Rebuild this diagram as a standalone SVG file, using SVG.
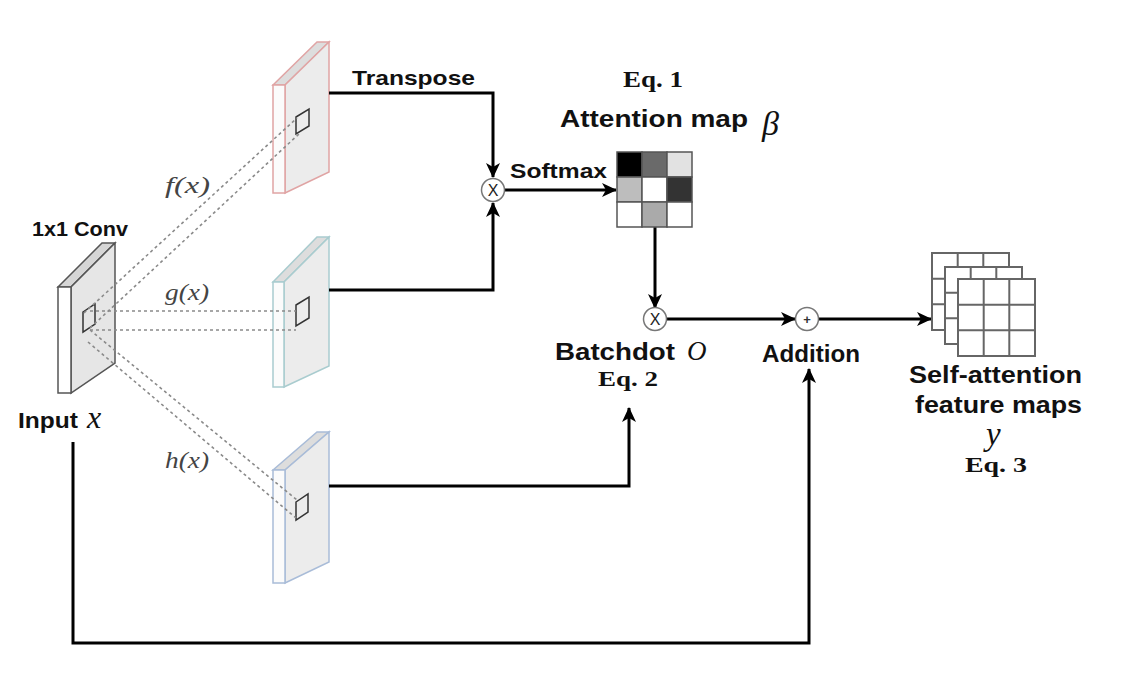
<svg xmlns="http://www.w3.org/2000/svg" width="1124" height="676" viewBox="0 0 1124 676">
<style>
.lbl{font-family:"Liberation Sans",Arial,sans-serif;font-weight:bold;fill:#111}
.eq{font-family:"Liberation Serif","Times New Roman",serif;font-weight:bold;fill:#111}
.math{font-family:"Liberation Serif","Times New Roman",serif;font-style:italic;fill:#111}
.fn{font-family:"Liberation Serif","Times New Roman",serif;font-style:italic;fill:#444;font-size:23px}
.wire{fill:none;stroke:#000;stroke-width:3}
.dash{fill:none;stroke:#8a8a8a;stroke-width:1.6;stroke-dasharray:3 3}
.sq{fill:none;stroke:#333;stroke-width:1.5}
.op{fill:#fff;stroke:#777;stroke-width:1.5}
.cell{stroke:#555;stroke-width:1.5}
.fm{fill:#fff;stroke:#666;stroke-width:2}
</style>
<defs>
<marker id="arr" markerUnits="userSpaceOnUse" markerWidth="16" markerHeight="14" refX="14" refY="7" orient="auto">
<path d="M0,0 L15,7 L0,14 L4,7 z" fill="#000"/>
</marker>
</defs>
<rect width="1124" height="676" fill="#fff"/>

<g id="input">
<polygon points="58,287 102,243 115,243 71,287" fill="#d6d6d6" stroke="#555" stroke-width="1.5"/>
<polygon points="71,287 115,243 115,363 71,393" fill="#e6e6e6" stroke="#555" stroke-width="1.5"/>
<rect x="58" y="287" width="13" height="106" fill="#fff" stroke="#555" stroke-width="1.5"/>
<polygon class="sq" points="83,312 95,304 95,324 83,332"/>
<text class="lbl" x="32" y="236" font-size="20" textLength="96" lengthAdjust="spacingAndGlyphs">1x1 Conv</text>
<text class="lbl" x="18" y="428" font-size="22" textLength="60" lengthAdjust="spacingAndGlyphs">Input</text>
<text class="math" x="87" y="428" font-size="32">x</text>
</g>

<g id="map_f">
<polygon points="273,85 317,42 329,42 285,85" fill="#dddddd" stroke="#e0a4a4" stroke-width="1.5"/>
<polygon points="285,85 329,42 329,172 285,193" fill="#ececec" stroke="#e0a4a4" stroke-width="1.5"/>
<rect x="273" y="85" width="12" height="108" fill="#fbfbfb" stroke="#e0a4a4" stroke-width="1.5"/>
<polygon class="sq" points="296,117 309,109 309,126 296,134"/>
<text class="fn" x="165" y="193" textLength="45" lengthAdjust="spacingAndGlyphs">f(x)</text>
</g>

<g id="map_g">
<polygon points="273,282 317,237 329,237 284,282" fill="#dddddd" stroke="#a9cccf" stroke-width="1.5"/>
<polygon points="284,282 329,237 329,366 284,387" fill="#ececec" stroke="#a9cccf" stroke-width="1.5"/>
<rect x="273" y="282" width="11" height="105" fill="#fbfbfb" stroke="#a9cccf" stroke-width="1.5"/>
<polygon class="sq" points="296,305 309,297 309,318 296,326"/>
<text class="fn" x="165" y="300" textLength="44" lengthAdjust="spacingAndGlyphs">g(x)</text>
</g>

<g id="map_h">
<polygon points="273,470 317,432 329,432 285,470" fill="#dddddd" stroke="#a9bcd8" stroke-width="1.5"/>
<polygon points="285,470 329,432 329,562 285,583" fill="#ececec" stroke="#a9bcd8" stroke-width="1.5"/>
<rect x="273" y="470" width="12" height="113" fill="#fbfbfb" stroke="#a9bcd8" stroke-width="1.5"/>
<polygon class="sq" points="296,502 308,494 308,512 296,520"/>
<text class="fn" x="165" y="468" textLength="44" lengthAdjust="spacingAndGlyphs">h(x)</text>
</g>

<g id="dashes">
<line class="dash" x1="84" y1="313" x2="297" y2="118"/>
<line class="dash" x1="90" y1="328" x2="300" y2="133"/>
<line class="dash" x1="90" y1="311" x2="296" y2="311"/>
<line class="dash" x1="90" y1="330" x2="296" y2="330"/>
<line class="dash" x1="90" y1="330" x2="297" y2="500"/>
<line class="dash" x1="88" y1="342" x2="296" y2="518"/>
</g>

<g id="connectors">
<polyline class="wire" points="329,93 493,93 493,177" marker-end="url(#arr)"/>
<polyline class="wire" points="329,290 493,290 493,203" marker-end="url(#arr)"/>
<line class="wire" x1="505" y1="190" x2="616" y2="190" marker-end="url(#arr)"/>
<line class="wire" x1="655" y1="227" x2="655" y2="308" marker-end="url(#arr)"/>
<line class="wire" x1="666" y1="319" x2="795" y2="319" marker-end="url(#arr)"/>
<line class="wire" x1="819" y1="319" x2="931" y2="319" marker-end="url(#arr)"/>
<polyline class="wire" points="329,486 629,486 629,408" marker-end="url(#arr)"/>
<polyline class="wire" points="73,442 73,643 809,643 809,369" marker-end="url(#arr)"/>
<text class="lbl" x="352" y="85" font-size="21" textLength="123" lengthAdjust="spacingAndGlyphs">Transpose</text>
<text class="lbl" x="510" y="178" font-size="21" textLength="97" lengthAdjust="spacingAndGlyphs">Softmax</text>
</g>

<g id="mul1">
<circle class="op" cx="493" cy="190" r="11.5"/>
<text x="493" y="196" font-family="Liberation Sans,Arial,sans-serif" font-size="16" text-anchor="middle" fill="#222">X</text>
</g>

<g id="attention">
<rect class="cell" x="617" y="152" width="25" height="25" fill="#000"/>
<rect class="cell" x="642" y="152" width="25" height="25" fill="#6a6a6a"/>
<rect class="cell" x="667" y="152" width="25" height="25" fill="#e2e2e2"/>
<rect class="cell" x="617" y="177" width="25" height="25" fill="#bdbdbd"/>
<rect class="cell" x="642" y="177" width="25" height="25" fill="#fff"/>
<rect class="cell" x="667" y="177" width="25" height="25" fill="#333"/>
<rect class="cell" x="617" y="202" width="25" height="25" fill="#fff"/>
<rect class="cell" x="642" y="202" width="25" height="25" fill="#aaa"/>
<rect class="cell" x="667" y="202" width="25" height="25" fill="#fff"/>
<text class="eq" x="623" y="87" font-size="23" textLength="60" lengthAdjust="spacingAndGlyphs">Eq. 1</text>
<text class="lbl" x="560" y="127" font-size="24" textLength="188" lengthAdjust="spacingAndGlyphs">Attention map</text>
<text class="math" x="762" y="135" font-size="34">β</text>
</g>

<g id="mul2">
<circle class="op" cx="655" cy="319" r="11.5"/>
<text x="655" y="325" font-family="Liberation Sans,Arial,sans-serif" font-size="16" text-anchor="middle" fill="#222">X</text>
<text class="lbl" x="555" y="360" font-size="24" textLength="120" lengthAdjust="spacingAndGlyphs">Batchdot</text>
<text class="math" x="687" y="360" font-size="27">O</text>
<text class="eq" x="598" y="386" font-size="22" textLength="60" lengthAdjust="spacingAndGlyphs">Eq. 2</text>
</g>

<g id="add">
<circle class="op" cx="807" cy="319" r="11.5"/>
<text x="807" y="324" font-family="Liberation Sans,Arial,sans-serif" font-size="13" font-weight="bold" text-anchor="middle" fill="#333">+</text>
<text class="lbl" x="762" y="362" font-size="23" textLength="98" lengthAdjust="spacingAndGlyphs">Addition</text>
</g>

<g id="output">
<rect class="fm" x="932" y="253" width="77" height="77"/>
<path d="M957.7,253 V330 M983.3,253 V330 M932,278.7 H1009 M932,304.3 H1009" stroke="#666" stroke-width="2" fill="none"/>
<rect class="fm" x="945" y="267" width="77" height="77"/>
<path d="M970.7,267 V344 M996.3,267 V344 M945,292.7 H1022 M945,318.3 H1022" stroke="#666" stroke-width="2" fill="none"/>
<rect class="fm" x="958" y="279" width="77" height="77"/>
<path d="M983.7,279 V356 M1009.3,279 V356 M958,304.7 H1035 M958,330.3 H1035" stroke="#666" stroke-width="2" fill="none"/>
<text class="lbl" x="909" y="383" font-size="24" textLength="173" lengthAdjust="spacingAndGlyphs">Self-attention</text>
<text class="lbl" x="915" y="413" font-size="24" textLength="167" lengthAdjust="spacingAndGlyphs">feature maps</text>
<text class="math" x="986" y="445" font-size="33">y</text>
<text class="eq" x="965" y="472" font-size="22" textLength="62" lengthAdjust="spacingAndGlyphs">Eq. 3</text>
</g>
</svg>
